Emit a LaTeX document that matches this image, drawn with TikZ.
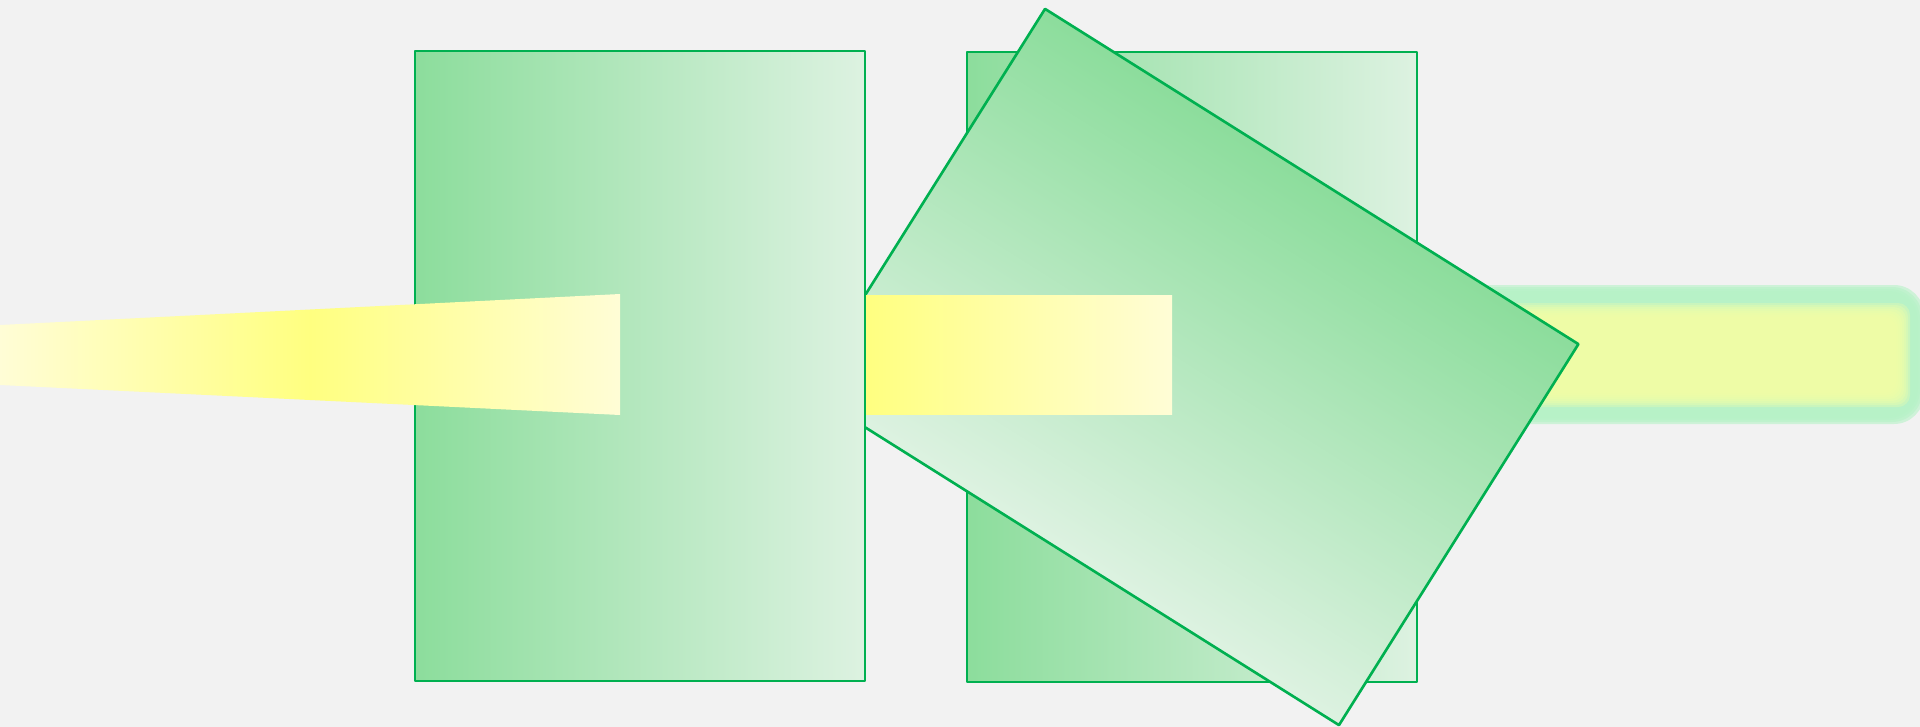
\documentclass[tikz,border=0pt]{standalone}
\usetikzlibrary{positioning}
\definecolor{bgpaper}{RGB}{242,242,242}
\definecolor{slabline}{RGB}{0,176,80}
\definecolor{slabdark}{RGB}{140,221,156}
\definecolor{slabpale}{RGB}{221,242,225}
\definecolor{beamcore}{RGB}{255,255,128}
\definecolor{beampale}{RGB}{255,253,214}
\definecolor{glowmint}{RGB}{182,243,199}
\definecolor{glowcore}{RGB}{243,255,166}
\tikzset{
  slab/.style={draw=slabline, line width=0.75pt, line join=round, left color=slabdark, right color=slabpale},
  beam/.style={left color=beampale, right color=beampale, middle color=beamcore},
}

\begin{document}
\begin{tikzpicture}[x=0.01cm, y=-0.01cm]
\fill[bgpaper] (0,0) rectangle (1920,727);
\useasboundingbox (0,0) rectangle (1920,727);
\clip (0,0) rectangle (1920,727);
\coordinate (tilt) at (1192,367);
% glow behind the tilted slab
\foreach \k in {0,...,3}
  \fill[glowmint, opacity=0.6, rounded corners=0.3cm] (1460,285+2*\k) rectangle (1924-2*\k,424-2*\k);
\foreach \k in {0,...,7}
  \fill[glowcore, opacity=0.3, rounded corners=0.12cm] (1460,303+2*\k) rectangle (1910-2*\k,407-2*\k);
% slabs
\draw[slab] (967,52) rectangle (1417,682);
\begin{scope}[transform canvas={rotate around={-122.15:(tilt)}}]
\draw[slab] (967,52) rectangle (1417,682);
\end{scope}
\draw[slab] (415,51) rectangle (865,681);
% beams
\shade[beam] (0,325) -- (620,294) -- (620,415) -- (0,385) -- cycle;
\shade[left color=beamcore, right color=beampale] (866,295) rectangle (1172,414);
\end{tikzpicture}
\end{document}
